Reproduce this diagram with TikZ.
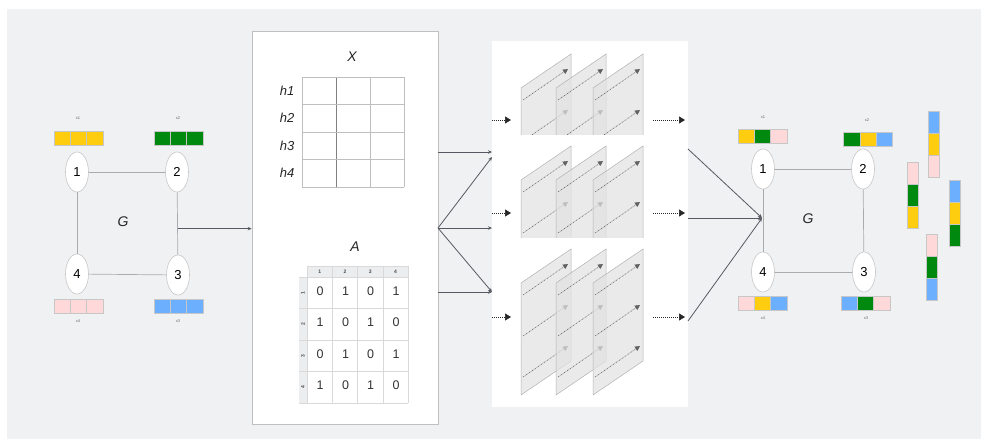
\documentclass[tikz,border=0pt]{standalone}
\usepackage{fontspec}
\setmainfont{Liberation Sans}
\usepackage{xcolor}
\usetikzlibrary{shapes.geometric, arrows.meta, positioning, calc}

\definecolor{bgGray}{HTML}{F0F1F3}
\definecolor{hdrGray}{HTML}{ECEDEF}
\definecolor{lineDark}{HTML}{555A62}
\definecolor{featYellow}{HTML}{FFCD0F}
\definecolor{featGreen}{HTML}{00890F}
\definecolor{featPink}{HTML}{FFD9D9}
\definecolor{featBlue}{HTML}{6CAFFF}

\begin{document}
\begin{tikzpicture}[
    x=1pt, y=-1pt,
    vertex/.style={ellipse, draw=black!22, fill=white, line width=0.6pt, minimum width=23pt, minimum height=40pt, inner sep=0pt, font=\fontsize{13}{13}\selectfont},
    gedge/.style={draw=black!33, line width=0.7pt},
    featcell/.style={rectangle, draw=black!22, line width=0.5pt, minimum width=16.3pt, minimum height=14pt, inner sep=0pt},
    vcell/.style={rectangle, draw=black!22, line width=0.5pt, minimum width=11pt, minimum height=22pt, inner sep=0pt},
    tinylab/.style={font=\fontsize{4}{4}\selectfont, text=black!60, inner sep=0pt},
    glabel/.style={font=\fontsize{14}{14}\selectfont\itshape, text=black!85},
    hlab/.style={font=\fontsize{13}{13}\selectfont\itshape, text=black!85},
    hdr/.style={font=\fontsize{5}{5}\selectfont\bfseries, text=black!70, inner sep=0pt},
    val/.style={font=\fontsize{12.5}{12.5}\selectfont, text=black!80, inner sep=0pt},
    panel/.style={rectangle, draw=black!25, fill=white, line width=0.8pt, inner sep=0pt},
    conn/.style={-{Stealth[length=4pt, width=3.5pt]}, draw=lineDark, line width=0.8pt},
    dotarrow/.style={-{Triangle[length=6pt, width=7pt]}, draw=black!85, dash pattern=on 1pt off 1pt, line width=0.6pt},
    plane/.style={draw=black!30, fill=black!11, fill opacity=0.72, line width=0.5pt},
    flow/.style={-{Triangle[length=5pt, width=5pt]}, draw=black!62, dash pattern=on 1.5pt off 0.8pt on 0.5pt off 0.8pt, line width=0.5pt}
]

\useasboundingbox (0,0) rectangle (981,439);
\fill[bgGray] (7,9) rectangle (981,439);

% Input graph G
\node[vertex] (l1) at (77,172) {1};
\node[vertex] (l2) at (177,172) {2};
\node[vertex] (l3) at (178,275) {3};
\node[vertex] (l4) at (77,274) {4};
\draw[gedge] (l1) -- (l2);
\draw[gedge] (l2) -- (l3);
\draw[gedge] (l3) -- (l4);
\draw[gedge] (l4) -- (l1);
\node[glabel] (lg) at (123,222) {G};

% Output graph G
\node[vertex] (r1) at (763,169) {1};
\node[vertex] (r2) at (863,169) {2};
\node[vertex] (r3) at (864,272) {3};
\node[vertex] (r4) at (763,272) {4};
\draw[gedge] (r1) -- (r2);
\draw[gedge] (r2) -- (r3);
\draw[gedge] (r3) -- (r4);
\draw[gedge] (r4) -- (r1);
\node[glabel] (rg) at (808,219) {G};

% Feature bars beside the vertices
\foreach \cx/\cy/\ca/\cb/\cc/\nm in {
    78.5/138/featYellow/featYellow/featYellow/lf1,
    178.5/138/featGreen/featGreen/featGreen/lf2,
    78.5/306/featPink/featPink/featPink/lf4,
    178.5/306/featBlue/featBlue/featBlue/lf3,
    762.5/136/featYellow/featGreen/featPink/rf1,
    868/139/featGreen/featYellow/featBlue/rf2,
    762.5/303/featPink/featYellow/featBlue/rf4,
    865.5/303/featBlue/featGreen/featPink/rf3} {
  \node[featcell, fill=\ca] (\nm a) at (\cx-16.3,\cy) {};
  \node[featcell, fill=\cb] (\nm b) at (\cx,\cy) {};
  \node[featcell, fill=\cc] (\nm c) at (\cx+16.3,\cy) {};
}
\node[tinylab] (lx1) at (78,118) {x1};
\node[tinylab] (lx2) at (178,118) {x2};
\node[tinylab] (lx4) at (78,321) {x4};
\node[tinylab] (lx3) at (178,321) {x3};
\node[tinylab] (rx1) at (763,117) {x1};
\node[tinylab] (rx2) at (867,120) {x2};
\node[tinylab] (rx4) at (763,318) {x4};
\node[tinylab] (rx3) at (866,318) {x3};

% Loose vertical feature bars
\foreach \cx/\cy/\ca/\cb/\cc/\nm in {
    933.5/144/featBlue/featYellow/featPink/va,
    912.5/195/featPink/featGreen/featYellow/vb,
    954.5/213.5/featBlue/featYellow/featGreen/vc,
    931.5/267.5/featPink/featGreen/featBlue/vd} {
  \node[vcell, fill=\ca] (\nm a) at (\cx,\cy-22) {};
  \node[vcell, fill=\cb] (\nm b) at (\cx,\cy) {};
  \node[vcell, fill=\cc] (\nm c) at (\cx,\cy+22) {};
}

% Panel with X and A
\node[panel, minimum width=186pt, minimum height=393pt] (xpanel) at (345,227.5) {};
\node[glabel] (xlab) at (352,57) {X};
\foreach \gx in {302,370,404}
  \draw[black!25, line width=0.6pt] (\gx,77) -- (\gx,187);
\draw[black!50, line width=0.6pt] (336,77) -- (336,187);
\foreach \gy in {77,104.5,132,159.5,187}
  \draw[black!25, line width=0.6pt] (302,\gy) -- (404,\gy);
\foreach \i in {1,...,4}
  \node[hlab] (h\i) at (287,63.25+27.5*\i) {h\i};

\node[glabel] (alab) at (355,247) {A};
\fill[hdrGray] (307,266) rectangle (408,277);
\fill[hdrGray] (299,277) rectangle (307,403);
\foreach \gx in {307,332.25,357.5,382.75,408}
  \draw[black!15, line width=0.5pt] (\gx,266) -- (\gx,403);
\draw[black!15, line width=0.5pt] (307,266) -- (408,266);
\foreach \gy in {277,308.5,340,371.5,403}
  \draw[black!15, line width=0.5pt] (299,\gy) -- (408,\gy);
\foreach \c in {1,...,4} {
  \node[hdr] (ch\c) at (294.4+25.25*\c,271.5) {\c};
  \node[hdr, rotate=90] (rh\c) at (303,261.25+31.5*\c) {\c};
}
\foreach \r/\va/\vb/\vc/\vd in {1/0/1/0/1, 2/1/0/1/0, 3/0/1/0/1, 4/1/0/1/0} {
  \node[val] (a\r1) at (320,259.5+31.5*\r) {\va};
  \node[val] (a\r2) at (345.5,259.5+31.5*\r) {\vb};
  \node[val] (a\r3) at (370.5,259.5+31.5*\r) {\vc};
  \node[val] (a\r4) at (396,259.5+31.5*\r) {\vd};
}

% Panel with the stacked layers
\node[rectangle, fill=white, minimum width=196pt, minimum height=366pt, inner sep=0pt] (cnn) at (590,224) {};
\foreach \T/\ya/\yb in {88/41/134, 180/141/237, 283/244/407} {
  \begin{scope}
    \clip (492,\ya) rectangle (688,\yb);
    \foreach \px in {521,556,593} {
      \draw[plane] (\px,\T) -- (\px+50,\T-34) -- (\px+50,\T+78) -- (\px,\T+112) -- cycle;
      \foreach \k in {0,1,2}
        \draw[flow] (\px+2,\T+12+41*\k) -- (\px+47,\T+12+41*\k-31);
    }
  \end{scope}
}
\foreach \yy [count=\i] in {120,213,317} {
  \coordinate (di\i) at (492,\yy);
  \coordinate (de\i) at (511,\yy);
  \coordinate (dp\i) at (653,\yy);
  \coordinate (dq\i) at (685,\yy);
  \draw[dotarrow] (di\i) -- (de\i);
  \draw[dotarrow] (dp\i) -- (dq\i);
}

% Connectors
\coordinate (gout) at ($(l2)!0.55!(l3)$);
\draw[conn] (gout) -- (gout -| xpanel.west);

\coordinate (c1) at (492,152);
\coordinate (c2) at (492,157);
\coordinate (c3) at (492,228);
\coordinate (c4) at (492,292);
\coordinate (xo) at (438,228);
\draw[conn] (xpanel.east |- c1) -- (c1);
\draw[conn] (xo) -- (c2);
\draw[conn] (xo) -- (c3);
\draw[conn] (xo) -- (c4);
\draw[conn] (xpanel.east |- c4) -- (c4);

\coordinate (hub) at (762,218);
\coordinate (o1) at (688,149);
\coordinate (o2) at (688,218);
\coordinate (o3) at (688,321);
\draw[conn] (o1) -- (hub);
\draw[conn] (o2) -- (hub);
\draw[conn] (o3) -- (hub);

\end{tikzpicture}
\end{document}
